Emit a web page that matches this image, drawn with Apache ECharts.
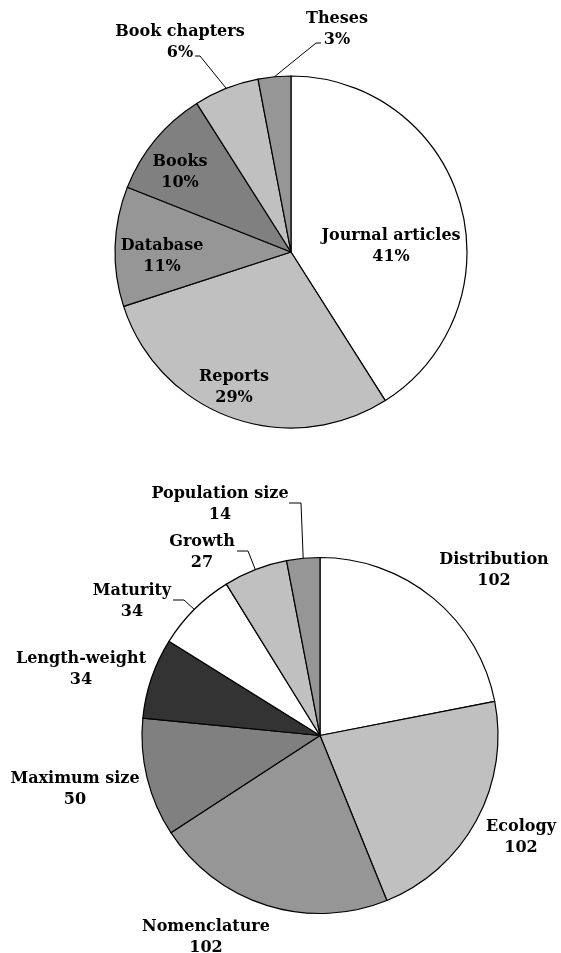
<!DOCTYPE html>
<html>
<head>
<meta charset="utf-8">
<script src="https://cdn.jsdelivr.net/npm/echarts@6/dist/echarts.min.js"></script>
<style>
  html, body { margin: 0; padding: 0; background: #fff; }
  #chart { width: 561px; height: 953px; }
</style>
</head>
<body>
<div id="chart"></div>
<script>
// top pie: source types (%)
const sourceNames = ['Journal articles', 'Reports', 'Database', 'Books', 'Book chapters', 'Theses']
const sourcePercents = [41, 29, 11, 10, 6, 3]
const sourceColors = ['#ffffff', '#c0c0c0', '#969696', '#808080', '#c0c0c0', '#969696']

// bottom pie: information categories (counts)
const infoNames = ['Distribution', 'Ecology', 'Nomenclature', 'Maximum size', 'Length-weight', 'Maturity', 'Growth', 'Population size']
const infoCounts = [102, 102, 102, 50, 34, 34, 27, 14]
const infoColors = ['#ffffff', '#c0c0c0', '#969696', '#808080', '#333333', '#ffffff', '#c0c0c0', '#969696']

// label placement (block centre) and elbow of leader line, per slice
const pies = [
  {
    center: [291, 252], radius: 176,
    labels: [[391, 246], [234, 387], [162, 256], [180, 172], [180, 42], [337, 29]],
    elbows: [null, null, null, null, [[200, 56], [195, 56]], [[316, 43], [321, 43]]]
  },
  {
    center: [320, 735.5], radius: 178,
    labels: [[494, 570], [521, 837], [206, 937], [75, 789], [81, 669], [132, 601], [202, 552], [220, 504]],
    elbows: [null, null, null, null, null, [[184, 600], [173, 600]], [[248, 551], [237, 551]], [[301, 503], [289, 503]]]
  }
]

const edgePoint = (seriesIdx, dataIdx) => {
  const values = seriesIdx === 0 ? sourcePercents : infoCounts
  const total = values.reduce((a, b) => a + b, 0)
  let before = 0
  for (let i = 0; i < dataIdx; i++) before += values[i]
  const frac = (before + values[dataIdx] / 2) / total
  const ang = frac * Math.PI * 2
  const p = pies[seriesIdx]
  return [p.center[0] + p.radius * Math.sin(ang), p.center[1] - p.radius * Math.cos(ang)]
}

const makeData = (names, values, colors, seriesIdx) => names.map((n, i) => ({
  name: n,
  value: values[i],
  itemStyle: {color: colors[i]},
  labelLine: {show: !!pies[seriesIdx].elbows[i]}
}))

const labelFont = {
  color: '#000',
  fontFamily: 'Georgia, "DejaVu Serif", serif',
  fontWeight: 'bold',
  fontSize: 16,
  lineHeight: 21,
  align: 'center'
}

const makeSeries = (idx, data, fmt) => ({
  type: 'pie',
  center: pies[idx].center,
  radius: pies[idx].radius,
  startAngle: 90,
  clockwise: true,
  avoidLabelOverlap: false,
  silent: true,
  itemStyle: {borderColor: '#000', borderWidth: 1.2},
  label: Object.assign({show: true, position: 'outside', formatter: fmt}, labelFont),
  labelLine: {lineStyle: {color: '#000', width: 1}},
  labelLayout: (params) => {
    const p = pies[idx]
    const pos = p.labels[params.dataIndex]
    const res = {x: pos[0], y: pos[1], align: 'center', verticalAlign: 'middle'}
    const elbow = p.elbows[params.dataIndex]
    if (elbow) {
      res.labelLinePoints = [edgePoint(idx, params.dataIndex), elbow[0], elbow[1]]
    }
    return res
  },
  data: data
})

const chart = echarts.init(document.getElementById('chart'))
chart.setOption({
  animation: false,
  backgroundColor: '#fff',
  series: [
    makeSeries(0, makeData(sourceNames, sourcePercents, sourceColors, 0), '{b}\n{c}%'),
    makeSeries(1, makeData(infoNames, infoCounts, infoColors, 1), '{b}\n{c}')
  ]
})
</script>
</body>
</html>
